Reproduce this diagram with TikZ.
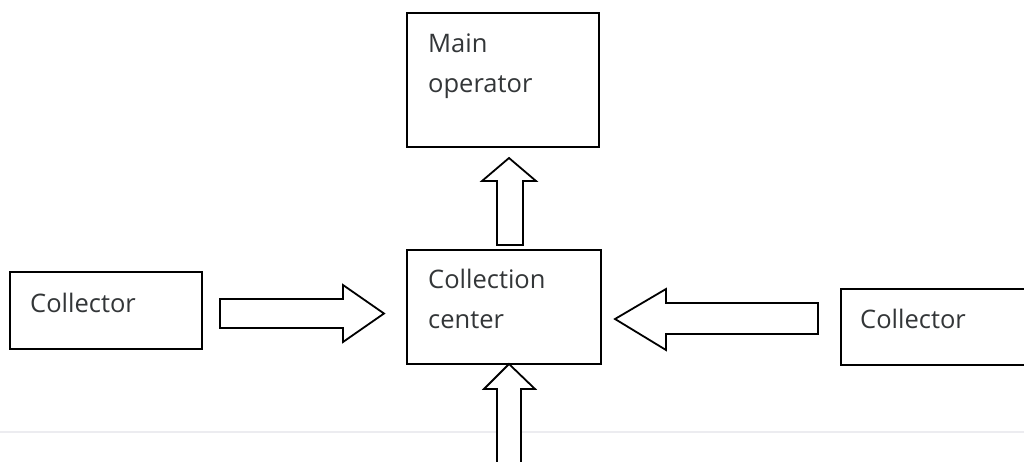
\documentclass[tikz,border=0pt]{standalone}
\usepackage{fontspec}
\setmainfont{Open Sans}
\definecolor{txt}{HTML}{333638}
\definecolor{rule}{HTML}{ECECF0}
\begin{document}
\begin{tikzpicture}[x=1pt,y=-1pt,
  box/.style={draw=black,line width=1.8pt},
  lbl/.style={inner sep=0pt,anchor=base west,align=left,text=txt,
    font=\fontsize{25.5}{40}\selectfont},
  blockarrow/.style={draw=black,fill=white,line width=1.8pt,line join=miter}]
\useasboundingbox (0,0) rectangle (1024,461);
\clip (0,0) rectangle (1024,461);
\fill[white] (0,0) rectangle (1024,461);
% faint rule
\coordinate (rl) at (0,432);
\coordinate (rr) at (1024,432);
\draw[rule,line width=2pt] (rl) -- (rr);
% boxes
\draw[box] (407,13) rectangle (599,147);
\node[lbl] (main) at (428,92) {Main\\operator};
\draw[box] (407,250) rectangle (601,364);
\node[lbl] (center) at (428,328) {Collection\\center};
\draw[box] (10,272) rectangle (202,349);
\node[lbl] (colL) at (30,312) {Collector};
\draw[box] (841,289) rectangle (1040,365);
\node[lbl] (colR) at (860,328) {Collector};
% arrows
\draw[blockarrow] (497,245) -- (497,181) -- (482,181) -- (509,158) -- (536,181) -- (523,181) -- (523,245) -- cycle;
\draw[blockarrow] (497,470) -- (497,389) -- (484,389) -- (509,364) -- (535,389) -- (521,389) -- (521,470) -- cycle;
\draw[blockarrow] (220,299) -- (343,299) -- (343,285) -- (384,313.5) -- (343,342) -- (343,328) -- (220,328) -- cycle;
\draw[blockarrow] (818,303) -- (666,303) -- (666,289) -- (615,319) -- (666,350) -- (666,334) -- (818,334) -- cycle;
\end{tikzpicture}
\end{document}
